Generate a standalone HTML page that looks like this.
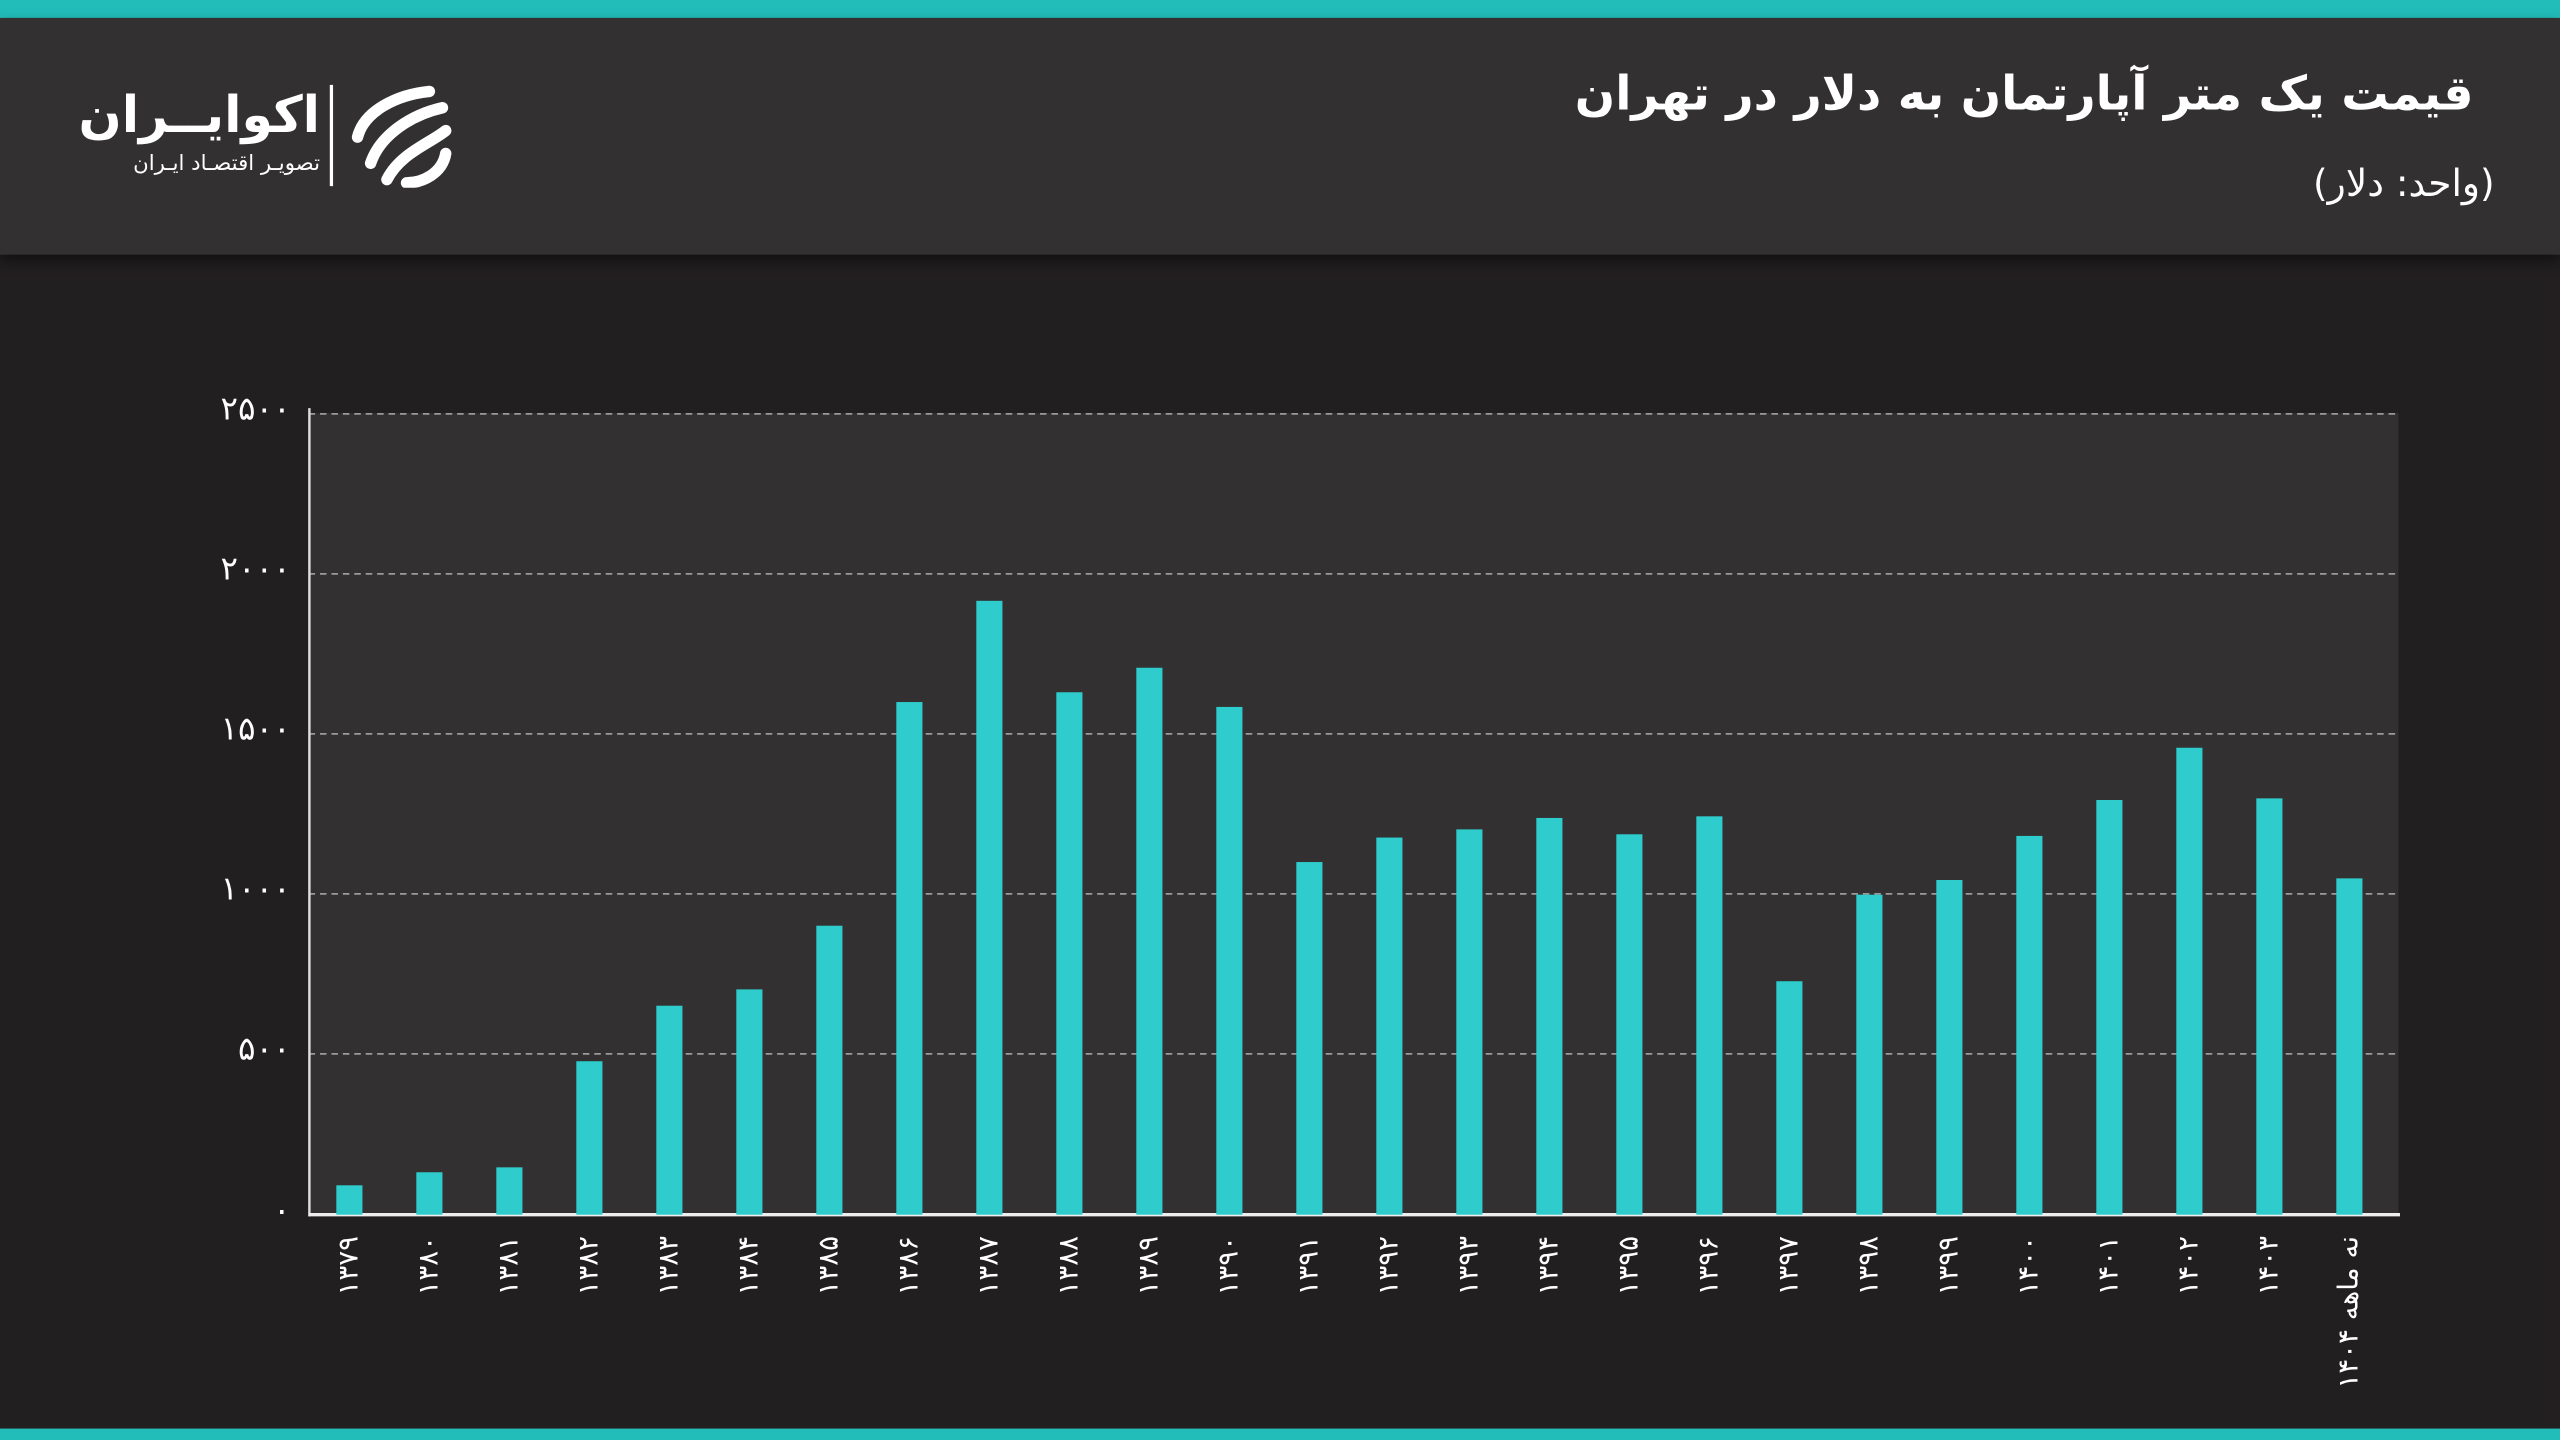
<!DOCTYPE html>
<html><head><meta charset="utf-8">
<style>
html,body{margin:0;padding:0;background:#221f20;width:2560px;height:1440px;overflow:hidden}
#w{position:absolute;left:0;top:0;width:1568px;height:882px;transform:scale(1.63265);transform-origin:0 0;background:#221f20;font-family:"DejaVu Sans","Liberation Sans",sans-serif;color:#fff}
.a{position:absolute}
.yl{position:absolute;right:1390px;font-size:20px;line-height:22px;text-align:right;direction:rtl}
.xl{position:absolute;font-size:17px;line-height:18px;white-space:nowrap;transform-origin:0 0;transform:rotate(-90deg) translateX(-100%);direction:rtl}
.bar{position:absolute;width:16px;background:#2ecccc}
</style></head><body><div id="w">
<div class="a" style="left:0;top:0;width:1568px;height:11px;background:#22bcb9"></div>
<div class="a" style="left:0;top:11px;width:1568px;height:145px;background:#333031;box-shadow:0 4px 8px rgba(0,0,0,.5)"></div>
<div class="a" style="left:0;top:875px;width:1568px;height:7px;background:#22bcb9"></div>
<div class="a" style="right:53px;top:40px;font-size:29px;font-weight:bold;direction:rtl;white-space:nowrap">قیمت یک متر آپارتمان به دلار در تهران</div>
<div class="a" style="right:40px;top:100px;font-size:23px;direction:rtl;white-space:nowrap">(واحد: دلار)</div>
<div class="a" style="left:56px;top:52px;width:140px;text-align:right;font-size:31px;font-weight:bold;direction:rtl;line-height:38px">اکوایــران</div>
<div class="a" style="left:56px;top:93px;width:140px;text-align:right;font-size:13px;direction:rtl">تصویـر اقتصـاد ایـران</div>
<div class="a" style="left:202px;top:52px;width:2px;height:62px;background:#fff"></div>
<svg class="a" style="left:213px;top:50px" width="64" height="65" viewBox="0 0 64 65">
<g fill="none" stroke="#fff" stroke-width="7" stroke-linecap="round">
<path d="M50 6 C30 8 10 18 6 34"/><path d="M58 16 C40 20 20 32 14 50"/><path d="M60 30 C50 38 32 44 24 60"/><path d="M60 44 C58 56 46 62 36 62"/>
</g></svg>
<div class="a" style="left:189px;top:253px;width:1280px;height:491px;background:#333031"></div>
<svg class="a" style="left:0;top:0" width="1568" height="882">
<g stroke="#9a9a9a" stroke-width="1" stroke-dasharray="4,3">
<line x1="189" x2="1469" y1="253.5" y2="253.5"/><line x1="189" x2="1469" y1="351.5" y2="351.5"/><line x1="189" x2="1469" y1="449.5" y2="449.5"/><line x1="189" x2="1469" y1="547.5" y2="547.5"/><line x1="189" x2="1469" y1="645.5" y2="645.5"/>
</g>
<line x1="189.5" x2="189.5" y1="250" y2="745" stroke="#ddd" stroke-width="1.5"/>
<line x1="189" x2="1470" y1="744" y2="744" stroke="#eee" stroke-width="2"/>
</svg>
<div class="yl" style="top:239px">۲۵۰۰</div>
<div class="yl" style="top:337px">۲۰۰۰</div>
<div class="yl" style="top:435px">۱۵۰۰</div>
<div class="yl" style="top:533px">۱۰۰۰</div>
<div class="yl" style="top:631px">۵۰۰</div>
<div class="yl" style="top:730px">۰</div>
<div id="bars"></div>
<script>
var tops=[726,718,715,650,616,606,567,430,368,424,409,433,528,513,508,501,511,500,601,548,539,512,490,458,489,538];
var fa=['۰','۱','۲','۳','۴','۵','۶','۷','۸','۹'];
function p(n){return String(n).replace(/\d/g,function(d){return fa[d];});}
var h='';
for(var i=0;i<26;i++){var c=214+i*49;
h+='<div class="bar" style="left:'+(c-8)+'px;top:'+tops[i]+'px;height:'+(744-tops[i])+'px"></div>';
var t=i<25?p(1379+i):'نه ماهه '+p(1404);
h+='<div class="xl" style="left:'+(c-9)+'px;top:757px">'+t+'</div>';}
document.getElementById('bars').innerHTML=h;
</script>
</div></body></html>
